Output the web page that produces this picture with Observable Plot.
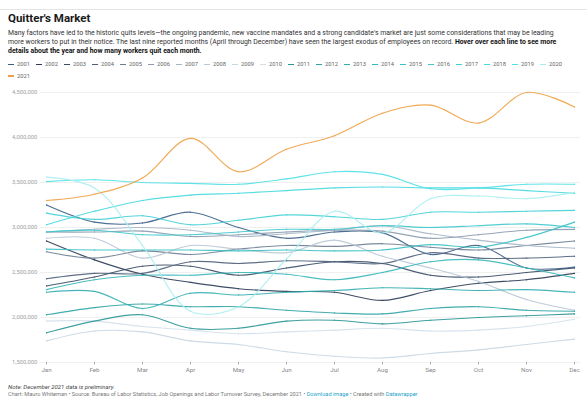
<!DOCTYPE html>
<html><head><meta charset="utf-8">
<script src="https://cdn.jsdelivr.net/npm/d3@7"></script>
<script src="https://cdn.jsdelivr.net/npm/@observablehq/plot@0.6"></script>
<style>
body{margin:0;background:#fff;font-family:Roboto,sans-serif;width:587px;height:398px;overflow:hidden;position:relative}
#topline{position:absolute;left:0;top:9px;width:587px;border-top:1px solid #e4e4e4}
#title{position:absolute;left:8px;top:11px;font-size:11.5px;font-weight:700;color:#1a1a1a}
#sub{position:absolute;left:8px;top:28.5px;width:579px;font-size:6.9px;line-height:9.3px;color:#333}
#sub b{color:#111}
#legend{position:absolute;left:8px;top:61px;width:580px;font-size:5.8px;color:#666}
.li{display:inline-block;width:28px;height:11.5px;white-space:nowrap}
.sw{display:inline-block;width:6px;height:1.4px;vertical-align:middle;margin-right:3px}
#chart{position:absolute;left:0;top:82px}
#note{position:absolute;left:8px;top:383px;font-size:6px;line-height:7px;font-style:italic;color:#444}
#src{position:absolute;left:8px;top:390.5px;font-size:5.6px;line-height:6.5px;color:#777;white-space:nowrap}
#src span{color:#1d9fc9}
</style></head>
<body>
<div id="topline"></div>
<div id="title">Quitter's Market</div>
<div id="sub">Many factors have led to the historic quits levels—the ongoing pandemic, new vaccine mandates and a strong candidate's market are just some considerations that may be leading<br>more workers to put in their notice. The last nine reported months (April through December) have seen the largest exodus of employees on record. <b>Hover over each line to see more<br>details about the year and how many workers quit each month.</b></div>
<div id="legend"></div>
<div id="chart"></div>
<div id="note">Note: December 2021 data is preliminary.</div>
<div id="src">Chart: Mauro Whiteman • Source: Bureau of Labor Statistics, Job Openings and Labor Turnover Survey, December 2021 • <span>Download image</span> • Created with <span>Datawrapper</span></div>
<script>
const months = ["Jan","Feb","Mar","Apr","May","Jun","Jul","Aug","Sep","Oct","Nov","Dec"];
const years = ["2001","2002","2003","2004","2005","2006","2007","2008","2009","2010","2011","2012","2013","2014","2015","2016","2017","2018","2019","2020","2021"];
const yTicks = [1500000,2000000,2500000,3000000,3500000,4000000,4500000];

// quits, millions of workers
const q2001 = [3.25,3.06,3.05,3.17,3.00,2.88,2.95,2.94,2.70,2.80,2.55,2.56];
const q2002 = [2.85,2.64,2.48,2.39,2.32,2.29,2.28,2.19,2.30,2.38,2.42,2.49];
const q2003 = [2.35,2.45,2.57,2.57,2.47,2.55,2.62,2.60,2.47,2.45,2.50,2.55];
const q2004 = [2.43,2.49,2.49,2.62,2.60,2.63,2.62,2.60,2.72,2.66,2.66,2.68];
const q2005 = [2.73,2.66,2.74,2.70,2.76,2.80,2.79,2.82,2.78,2.75,2.80,2.85];
const q2006 = [2.95,2.95,2.96,2.90,2.92,2.95,2.97,2.96,2.88,2.92,2.97,2.98];
const q2007 = [2.95,2.98,3.00,2.97,2.90,2.93,2.97,3.02,2.93,2.86,2.80,2.77];
const q2008 = [2.88,2.88,2.66,2.80,2.76,2.72,2.86,2.68,2.55,2.40,2.20,2.08];
const q2009 = [1.74,1.85,1.84,1.74,1.70,1.62,1.57,1.55,1.60,1.64,1.70,1.76];
const q2010 = [1.96,1.96,1.90,1.86,1.82,1.84,1.86,1.88,1.85,1.86,1.90,1.98];
const q2011 = [1.83,1.96,2.03,1.88,1.88,1.96,1.97,1.93,1.97,2.00,2.02,2.04];
const q2012 = [2.03,2.11,2.15,2.12,2.12,2.08,2.05,2.04,2.10,2.12,2.08,2.07];
const q2013 = [2.28,2.29,2.10,2.27,2.25,2.28,2.30,2.33,2.32,2.30,2.31,2.28];
const q2014 = [2.31,2.42,2.47,2.47,2.50,2.48,2.42,2.50,2.62,2.64,2.55,2.44];
const q2015 = [2.76,2.75,2.75,2.75,2.74,2.75,2.74,2.75,2.81,2.78,2.89,3.06];
const q2016 = [2.95,2.97,2.92,2.92,2.95,2.98,2.98,3.02,3.00,3.02,3.04,3.00];
const q2017 = [3.16,3.09,3.13,3.03,3.08,3.14,3.12,3.09,3.17,3.17,3.18,3.19];
const q2018 = [3.03,3.18,3.30,3.36,3.38,3.41,3.44,3.45,3.44,3.44,3.41,3.38];
const q2019 = [3.51,3.53,3.50,3.49,3.48,3.54,3.62,3.59,3.43,3.44,3.48,3.48];
const q2020 = [3.56,3.44,2.80,2.07,2.12,2.65,3.18,2.94,3.32,3.35,3.32,3.39];
const q2021 = [3.30,3.37,3.55,3.99,3.62,3.87,4.02,4.27,4.36,4.16,4.50,4.34];

const palette = ["#3a5f86","#2b3b55","#3a4c66","#4c5f79","#6d7e93","#8a9aae","#a6b5c6","#b8c7d6","#c9d7e3","#d3e0ea",
  "#2a9597","#2ea3a5","#32adb0","#36b7ba","#3ac0c4","#3ec8cd","#42d0d5","#46d8dd","#4fe0e5","#a8eef1","#f0a044"];

const series = [q2001,q2002,q2003,q2004,q2005,q2006,q2007,q2008,q2009,q2010,q2011,q2012,q2013,q2014,q2015,q2016,q2017,q2018,q2019,q2020,q2021];
const data = [];
series.forEach((s,i)=>s.forEach((v,j)=>data.push({year:years[i],month:months[j],value:v*1e6})));

// legend
const lg = document.getElementById("legend");
years.forEach((y,i)=>{
  const d=document.createElement("span");d.className="li";
  d.innerHTML=`<span class="sw" style="background:${palette[i]}"></span>${y}`;
  lg.appendChild(d);
  if(y==="2020") lg.appendChild(document.createElement("br"));
});

const chart = Plot.plot({
  width:587, height:298,
  marginLeft:42.7, marginRight:10, marginTop:10, marginBottom:18,
  style:{fontFamily:"Roboto,sans-serif", background:"#fff"},
  x:{type:"point", domain:months, padding:0, label:null},
  y:{domain:[1500000,4500000], label:null},
  color:{domain:years, range:palette},
  marks:[
    Plot.ruleY(yTicks,{stroke:"#ececec", strokeWidth:0.8, insetLeft:-3, insetRight:-3}),
    Plot.axisY({ticks:yTicks, tickFormat:d3.format(","), tickSize:0, tickPadding:6, fontSize:5.8, fill:"#a0a0a0"}),
    Plot.axisX({tickSize:2.5, tickPadding:3, fontSize:6.2, fill:"#888", stroke:"#aaa"}),
    Plot.line(data,{x:"month", y:"value", z:"year", stroke:"year", strokeWidth:1.15, strokeOpacity:0.9, curve:"catmull-rom"}),
    Plot.dot(data,{x:"month", y:"value", fill:"year", r:0.7, fillOpacity:0.8})
  ]
});
document.getElementById("chart").appendChild(chart);
</script>
</body></html>
